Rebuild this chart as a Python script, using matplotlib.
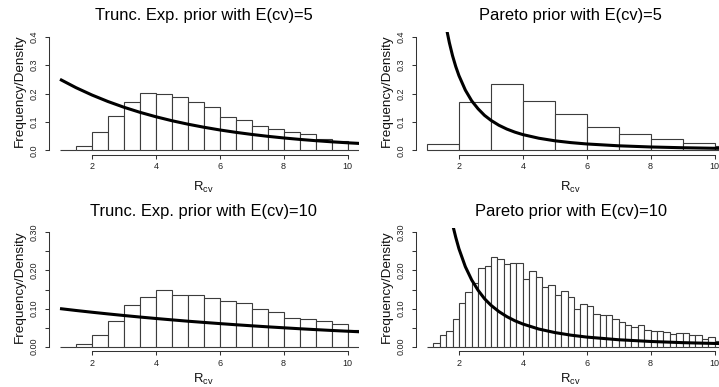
import matplotlib
matplotlib.use("Agg")
import matplotlib.pyplot as plt
import numpy as np

plt.rcParams['font.family'] = ['Liberation Sans', 'DejaVu Sans']

# ---------------- data ----------------
titles = ["Trunc. Exp. prior with E(cv)=5", "Pareto prior with E(cv)=5",
          "Trunc. Exp. prior with E(cv)=10", "Pareto prior with E(cv)=10"]

# histogram bins (left edges) and densities
texp5_edges = [1.0 + 0.5 * i for i in range(20)]
texp5_hist = [0.0, 0.014, 0.063, 0.120, 0.169, 0.201, 0.197, 0.188, 0.169, 0.151,
              0.116, 0.106, 0.086, 0.074, 0.066, 0.057, 0.039, 0.032, 0.030]

pareto5_edges = [1, 2, 3, 4, 5, 6, 7, 8, 9, 10, 11]
pareto5_hist = [0.023, 0.169, 0.232, 0.175, 0.127, 0.081, 0.0585, 0.039, 0.025, 0.016]

texp10_edges = [1.0 + 0.5 * i for i in range(20)]
texp10_hist = [0.0, 0.007, 0.031, 0.067, 0.109, 0.130, 0.148, 0.135, 0.137, 0.129,
               0.119, 0.114, 0.098, 0.090, 0.0745, 0.0735, 0.067, 0.060, 0.045]

pareto10_edges = [round(1.0 + 0.2 * i, 1) for i in range(48)]
pareto10_hist = [0.0, 0.011, 0.032, 0.040, 0.073, 0.114, 0.143, 0.167, 0.206, 0.211,
                 0.235, 0.229, 0.216, 0.220, 0.220, 0.177, 0.198, 0.184, 0.158, 0.161,
                 0.135, 0.145, 0.131, 0.098, 0.111, 0.107, 0.087, 0.082, 0.083, 0.072,
                 0.066, 0.056, 0.052, 0.057, 0.045, 0.041, 0.041, 0.038, 0.033, 0.037,
                 0.035, 0.030, 0.031, 0.020, 0.025, 0.016, 0.018]

# prior density curves
texp5_x = [1.0, 1.5, 2.0, 2.5, 3.0, 3.5, 4.0, 4.5, 5.0, 5.5, 6.0, 6.5, 7.0, 7.5,
           8.0, 8.5, 9.0, 9.5, 10.0, 10.5]
texp5_y = [0.250, 0.2206, 0.1947, 0.1718, 0.1516, 0.1338, 0.1181, 0.1042, 0.0920,
           0.0812, 0.0716, 0.0632, 0.0558, 0.0492, 0.0434, 0.0383, 0.0338, 0.0298,
           0.0263, 0.0232]

texp10_x = [1.0, 1.5, 2.0, 2.5, 3.0, 3.5, 4.0, 4.5, 5.0, 5.5, 6.0, 6.5, 7.0, 7.5,
            8.0, 8.5, 9.0, 9.5, 10.0, 10.5]
texp10_y = [0.1000, 0.0951, 0.0905, 0.0861, 0.0819, 0.0779, 0.0741, 0.0705, 0.0670,
            0.0638, 0.0607, 0.0577, 0.0549, 0.0522, 0.0497, 0.0472, 0.0449, 0.0427,
            0.0407, 0.0387]

pareto5_x = [1.6, 1.7, 1.8, 1.9, 2.0, 2.2, 2.4, 2.6, 2.8, 3.0, 3.25, 3.5, 3.75, 4.0,
             4.5, 5.0, 5.5, 6.0, 7.0, 8.0, 9.0, 10.0, 10.5]
pareto5_y = [0.434, 0.379, 0.333, 0.295, 0.263, 0.212, 0.174, 0.146, 0.123, 0.1056,
             0.0881, 0.0746, 0.0639, 0.0552, 0.0424, 0.0334, 0.0270, 0.0222, 0.0157,
             0.0116, 0.0089, 0.0070, 0.0063]

pareto10_x = [1.8, 1.9, 2.0, 2.2, 2.4, 2.6, 2.8, 3.0, 3.25, 3.5, 3.75, 4.0, 4.5,
              5.0, 5.5, 6.0, 7.0, 8.0, 9.0, 10.0, 10.5]
pareto10_y = [0.321, 0.287, 0.257, 0.210, 0.175, 0.148, 0.126, 0.109, 0.0923, 0.0789,
              0.0682, 0.0596, 0.0464, 0.0372, 0.0304, 0.0253, 0.0183, 0.0138, 0.0107,
              0.0086, 0.0078]

xticks = [2, 4, 6, 8, 10]
yticks_top = [0.0, 0.1, 0.2, 0.3, 0.4]
ytick_labels_top = ["0.0", "0.1", "0.2", "0.3", "0.4"]
yticks_bottom = [0.00, 0.05, 0.10, 0.15, 0.20, 0.25, 0.30]
ytick_labels_bottom = ["0.00", "", "0.10", "", "0.20", "", "0.30"]

# ---------------- layout ----------------
W, H = 719, 387
fig = plt.figure(figsize=(W / 100, H / 100), dpi=100)

def px_ax(l, r, t, b):
    return fig.add_axes([l / W, 1 - b / H, (r - l) / W, (b - t) / H])

cols = [(48.5, 359.0), (415.5, 726.0)]
rows = [(32.2, 154.8), (227.8, 351.3)]
xlabel_offsets = [35.8, 31.5]

panels = [
    (0, 0, texp5_edges, texp5_hist, texp5_x, texp5_y, yticks_top, ytick_labels_top, (-0.016, 0.416), (0, 0.4)),
    (0, 1, pareto5_edges, pareto5_hist, pareto5_x, pareto5_y, yticks_top, ytick_labels_top, (-0.016, 0.416), (0, 0.4)),
    (1, 0, texp10_edges, texp10_hist, texp10_x, texp10_y, yticks_bottom, ytick_labels_bottom, (-0.012, 0.312), (0, 0.3)),
    (1, 1, pareto10_edges, pareto10_hist, pareto10_x, pareto10_y, yticks_bottom, ytick_labels_bottom, (-0.012, 0.312), (0, 0.3)),
]

axcol = '#333333'
for i, (r, c, edges, hist, cx, cy, yt, ytl, ylim, ybounds) in enumerate(panels):
    l, rr = cols[c]
    t, b = rows[r]
    ax = px_ax(l, rr, t, b)
    ax.set_facecolor('none')
    widths = np.diff(edges)
    ax.bar(edges[:-1], hist, width=widths, align='edge', color='white',
           edgecolor='#3c3c3c', linewidth=0.8)
    ax.plot(cx, cy, color='black', linewidth=2.2, solid_capstyle='butt')
    ax.set_xlim(0.64, 10.36)
    ax.set_ylim(*ylim)
    for s in ['top', 'right']:
        ax.spines[s].set_visible(False)
    ax.spines['left'].set_bounds(*ybounds)
    ax.spines['bottom'].set_bounds(2, 10)
    for s in ['left', 'bottom']:
        ax.spines[s].set_color(axcol)
        ax.spines[s].set_linewidth(0.75)
    ax.set_xticks(xticks)
    ax.set_xticklabels([str(v) for v in xticks])
    ax.set_yticks(yt)
    ax.set_yticklabels(ytl, rotation=90, va='center')
    ax.tick_params(axis='both', direction='out', length=3.0, width=0.75,
                   color=axcol, labelsize=6.5, labelcolor='#222222')
    ax.tick_params(axis='x', pad=2.2)
    ax.tick_params(axis='y', pad=4.4)

    cxp = (l + rr) / 2
    # title
    fig.text(cxp / W, 1 - (t - 12.0) / H, titles[i], ha='center', va='baseline',
             fontsize=11.9, color='black')
    # x label
    fig.text(cxp / W, 1 - (b + xlabel_offsets[r]) / H, r'$\mathregular{R_{cv}}$',
             ha='center', va='baseline', fontsize=9.4, color='#111111')
    # y label
    fig.text((l - 29.0) / W, 1 - ((t + b) / 2 - 3.0) / H, 'Frequency/Density', rotation=90,
             ha='center', va='center', fontsize=9.7, color='#111111')

fig.savefig('out.png', dpi=100)
